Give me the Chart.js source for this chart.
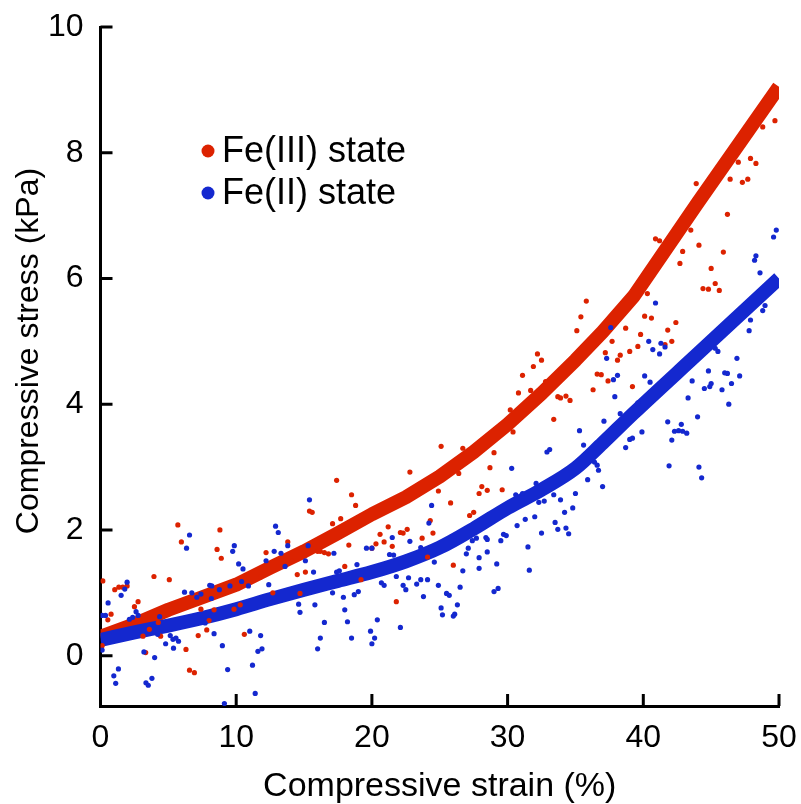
<!DOCTYPE html>
<html>
<head>
<meta charset="utf-8">
<script src="https://cdn.jsdelivr.net/npm/chart.js@4.4.1/dist/chart.umd.min.js"></script>
<style>
  html, body { margin: 0; background: #fff; }
  #wrap { width: 801px; height: 804px; }
</style>
</head>
<body>
<div id="wrap"><canvas id="stressChart"></canvas></div>
<script>
// tick labels
const xTicks = [0, 10, 20, 30, 40, 50];
const yTicks = [0, 2, 4, 6, 8, 10];

// fitted curves (strain %, stress kPa)
const fitStrain = [0, 2.5, 5, 7.5, 10, 12.5, 15, 17.5, 20, 22.5, 25, 27.5, 30, 32.5, 35, 37, 39.3, 44, 50];
const fe3Fit = [0.3, 0.5, 0.73, 0.93, 1.13, 1.4, 1.66, 1.95, 2.25, 2.52, 2.85, 3.24, 3.68, 4.17, 4.7, 5.15, 5.72, 7.2, 9.05];
const fe2Fit = [0.25, 0.37, 0.48, 0.6, 0.74, 0.9, 1.05, 1.19, 1.33, 1.5, 1.72, 2.02, 2.35, 2.64, 2.98, 3.38, 3.86, 4.8, 6.0];

// measured points, Fe(III) state
const fe3Points = [
  [5.7,2.08],[5.96,1.81],[8.8,2.0],[8.59,1.69],[8.9,1.55],[12.2,1.64],[0.17,1.19],[1.05,1.05],
  [1.35,1.09],[1.64,1.09],[1.96,1.11],[3.94,1.26],[5.07,1.21],[2.77,0.86],[2.5,0.78],[0.78,0.66],
  [0.54,0.57],[3.6,0.42],[3.13,0.31],[4.43,0.31],[4.26,0.53],[7.2,0.32],[7.83,0.41],[6.3,0.1],
  [6.56,-0.23],[6.92,-0.27],[3.33,0.05],[7.4,0.74],[8.37,0.73],[8.0,0.56],[9.84,0.74],[10.3,0.81],
  [10.6,0.34],[11.8,1.25],[0.12,0.16],
  [22.8,2.92],[17.4,2.79],[18.5,2.56],[18.8,2.39],[15.4,2.3],[15.6,2.28],[17.7,2.18],[17.1,2.1],
  [13.8,1.81],[21.2,2.05],[20.6,1.93],[20.3,1.78],[20.9,1.81],[22.1,1.96],[22.3,1.95],[22.6,2.01],
  [21.5,1.74],[20.0,1.71],[18.3,1.76],[16.0,1.66],[16.2,1.66],[16.5,1.64],[16.8,1.62],[18.0,1.42],
  [15.1,1.33],[14.5,1.29],[14.1,1.5],[23.7,1.87],[24.3,2.15],[24.5,1.95],[24.1,1.57],[19.2,1.21],
  [21.8,0.86],[14.7,0.99],[12.7,1.0],[24.9,2.62],
  [35.8,5.64],[35.4,5.39],[35.1,5.17],[32.2,4.8],[32.5,4.7],[31.9,4.6],[31.1,4.46],[32.8,4.36],
  [31.7,4.22],[30.8,4.18],[33.7,4.12],[33.9,4.1],[34.3,4.13],[34.6,4.06],[30.2,3.91],[30.4,3.56],
  [33.4,3.76],[36.3,4.23],[36.6,4.48],[36.9,4.47],[37.2,4.82],[37.4,4.37],[25.1,3.33],[26.7,3.3],
  [29.0,3.23],[26.4,2.9],[28.7,2.99],[28.1,2.69],[28.5,2.63],[27.9,2.58],[29.6,2.64],[25.8,2.43],
  [27.5,2.28],[27.2,2.23],[26.0,1.44],
  [49.7,8.51],[48.8,8.41],[47.9,7.91],[48.3,7.83],[47.0,7.85],[46.4,7.58],[47.3,7.53],[47.7,7.58],
  [43.9,7.51],[46.2,7.02],[40.9,6.63],[41.2,6.6],[43.5,6.77],[44.1,6.53],[42.9,6.43],[45.9,6.42],
  [42.7,6.24],[45.0,6.16],[44.4,5.84],[44.8,5.83],[45.3,5.92],[45.6,5.81],[40.3,5.76],[40.1,5.4],
  [40.6,5.37],[42.4,5.3],[38.7,5.21],[41.8,5.18],[39.8,5.11],[37.7,5.0],[42.1,5.0],[39.6,4.92],
  [39.0,4.84],[38.3,4.78],[38.1,4.7],[39.2,4.28],[41.6,4.95]
];

// measured points, Fe(II) state
const fe2Points = [
  [6.56,1.92],[6.34,1.71],[9.86,1.75],[9.74,1.66],[10.18,1.46],[10.5,1.38],[10.9,1.11],[10.4,1.18],
  [9.54,1.11],[8.2,1.11],[1.96,1.17],[1.79,1.06],[1.52,0.96],[0.56,0.84],[0.12,0.64],[0.37,0.64],
  [2.37,0.61],[2.13,0.58],[2.62,0.7],[2.77,0.64],[6.19,1.01],[6.73,1.0],[7.1,0.93],[7.4,0.98],
  [8.05,1.12],[8.76,1.05],[8.17,0.91],[4.36,0.62],[7.71,0.52],[8.37,0.35],[4.21,0.34],[4.8,0.19],
  [5.14,0.32],[5.34,0.26],[5.56,0.28],[5.75,0.23],[5.38,0.12],[8.98,0.16],[3.2,0.06],[3.99,-0.03],
  [11.0,0.39],[11.8,0.32],[11.9,0.11],[11.6,0.07],[11.2,-0.15],[9.37,-0.22],[1.32,-0.21],[0.98,-0.32],
  [1.12,-0.44],[3.35,-0.43],[3.52,-0.47],[3.79,-0.36],[11.4,-0.6],[9.13,-0.76],[0.12,0.09],
  [15.4,2.48],[12.9,2.06],[13.1,1.96],[13.8,1.75],[12.8,1.66],[13.3,1.63],[15.3,1.75],[13.6,1.42],
  [15.1,1.51],[15.7,1.33],[17.2,1.63],[17.4,1.33],[17.6,1.35],[18.9,1.45],[19.6,1.71],[20.0,1.71],
  [21.3,1.61],[21.6,1.6],[21.5,1.88],[22.8,1.82],[23.6,1.72],[24.2,2.11],[24.4,2.39],[24.6,1.49],
  [24.9,1.12],[24.1,1.21],[23.8,0.94],[23.3,1.14],[23.6,1.21],[22.3,1.12],[22.5,1.05],[22.7,1.24],
  [21.8,1.26],[20.7,1.16],[20.9,1.12],[18.7,0.97],[19.0,1.02],[17.1,1.0],[17.9,0.93],[12.4,1.13],
  [14.6,0.82],[14.7,0.69],[15.8,0.81],[16.5,0.53],[18.0,0.73],[18.2,0.54],[20.4,0.57],[19.9,0.39],
  [20.2,0.28],[20.0,0.19],[18.5,0.28],[16.2,0.28],[16.0,0.11],[22.1,0.45],[12.2,1.51],
  [35.3,3.58],[35.6,3.35],[37.1,3.73],[37.3,4.73],[32.9,3.24],[33.1,3.28],[30.3,2.98],[36.4,3.08],
  [36.6,3.03],[36.7,2.95],[35.9,2.8],[37.0,2.69],[32.1,2.74],[30.6,2.56],[31.1,2.58],[32.3,2.44],
  [32.7,2.46],[33.4,2.56],[33.9,2.48],[35.0,2.58],[34.8,2.35],[34.2,2.28],[33.5,2.12],[33.7,2.01],
  [34.3,2.03],[34.5,1.94],[32.0,2.21],[31.3,2.17],[30.7,2.07],[32.5,1.95],[29.7,1.93],[29.9,1.91],
  [29.5,1.83],[28.4,1.88],[28.5,1.85],[27.7,1.87],[27.4,1.83],[27.1,1.71],[26.96,1.62],[27.9,1.56],
  [28.5,1.65],[29.2,1.46],[27.9,1.39],[26.7,1.35],[31.6,1.36],[31.5,1.73],[26.5,1.09],[25.5,0.99],
  [25.7,0.96],[29.0,1.02],[29.3,1.07],[26.3,0.81],[25.1,0.76],[25.2,0.65],[26.0,0.63],[26.1,0.66],
  [49.8,6.77],[49.6,6.66],[48.3,6.36],[48.2,6.29],[48.6,6.09],[48.97,5.57],[48.8,5.49],[47.9,5.34],
  [47.8,5.17],[40.9,5.61],[37.6,5.22],[40.4,5.0],[41.3,4.97],[40.7,4.87],[41.6,4.91],[41.2,4.8],
  [45.3,4.89],[45.5,4.84],[46.9,4.73],[38.1,4.46],[37.8,4.39],[40.1,4.45],[40.5,4.35],[44.8,4.53],
  [46.0,4.5],[46.2,4.49],[47.1,4.45],[43.6,4.37],[45.0,4.33],[44.9,4.28],[44.5,4.25],[46.5,4.33],
  [45.8,4.23],[37.9,4.12],[43.3,4.10],[46.3,4.0],[39.6,4.02],[38.3,3.85],[44.0,3.8],[41.8,3.72],
  [39.9,3.56],[42.8,3.68],[42.3,3.57],[42.6,3.58],[42.9,3.57],[43.2,3.54],[42.1,3.43],[39.0,3.44],
  [39.2,3.46],[38.7,3.31],[41.9,3.02],[44.1,3.0],[44.3,2.83]
];

const RED = "#dc2200";
const BLUE = "#1428cf";
const FONT = "'Liberation Sans', Arial, Helvetica, sans-serif";

const toXY = pts => pts.map(p => ({ x: p[0], y: p[1] }));
const fitXY = ys => fitStrain.map((x, i) => ({ x: x, y: ys[i] }));

// inward ticks, y title and legend
const decorations = {
  id: "decorations",
  afterDraw(chart) {
    const { ctx, scales: { x, y } } = chart;
    ctx.save();
    ctx.strokeStyle = "#000";
    ctx.lineWidth = 3;
    ctx.beginPath();
    xTicks.forEach(v => {
      const px = x.getPixelForValue(v);
      ctx.moveTo(px, y.bottom);
      ctx.lineTo(px, y.bottom - 12);
    });
    yTicks.forEach(v => {
      const py = y.getPixelForValue(v);
      ctx.moveTo(x.left, py);
      ctx.lineTo(x.left + 12, py);
    });
    ctx.stroke();

    // y axis title
    ctx.fillStyle = "#000";
    ctx.font = "32px " + FONT;
    ctx.textAlign = "center";
    ctx.textBaseline = "middle";
    ctx.translate(29, 351);
    ctx.rotate(-Math.PI / 2);
    ctx.fillText("Compressive stress (kPa)", 0, 0);
    ctx.restore();

    // legend
    ctx.save();
    ctx.font = "36px " + FONT;
    ctx.textBaseline = "middle";
    [["Fe(III) state", RED, 151], ["Fe(II) state", BLUE, 193]].forEach(([label, col, ly]) => {
      ctx.fillStyle = col;
      ctx.beginPath();
      ctx.arc(208, ly, 6.5, 0, Math.PI * 2);
      ctx.fill();
      ctx.fillStyle = "#000";
      ctx.fillText(label, 222, ly + 1);
    });
    ctx.restore();
  }
};

new Chart(document.getElementById("stressChart"), {
  type: "scatter",
  data: {
    datasets: [
      { label: "Fe(II) state", data: toXY(fe2Points), backgroundColor: BLUE, borderWidth: 0, pointRadius: 2.6, order: 0 },
      { label: "Fe(III) state", data: toXY(fe3Points), backgroundColor: RED, borderWidth: 0, pointRadius: 2.6, order: 1 },
      { label: "Fe(II) fit", data: fitXY(fe2Fit), showLine: true, borderColor: BLUE, borderWidth: 14,
        cubicInterpolationMode: "monotone", borderCapStyle: "butt", borderJoinStyle: "round", pointRadius: 0, order: 2 },
      { label: "Fe(III) fit", data: fitXY(fe3Fit), showLine: true, borderColor: RED, borderWidth: 14,
        borderCapStyle: "butt", borderJoinStyle: "round", pointRadius: 0, order: 3 }
    ]
  },
  options: {
    responsive: true,
    maintainAspectRatio: false,
    animation: false,
    layout: { padding: { top: 27, right: 22, left: 0, bottom: 0 } },
    plugins: { legend: { display: false }, tooltip: { enabled: false } },
    scales: {
      x: {
        min: 0, max: 50,
        afterBuildTicks: s => { s.ticks = xTicks.map(v => ({ value: v })); },
        afterFit: s => { s.height = 98; s.paddingLeft = 0; s.paddingRight = 0; },
        grid: { display: false, drawTicks: false },
        border: { display: true, color: "#000", width: 3 },
        ticks: { color: "#000", padding: 13, font: { family: FONT, size: 32 } },
        title: { display: true, text: "Compressive strain (%)", color: "#000",
          padding: 0, font: { family: FONT, size: 34, lineHeight: 1 } }
      },
      y: {
        min: -0.8, max: 10,
        afterBuildTicks: s => { s.ticks = yTicks.map(v => ({ value: v })); },
        afterFit: s => { s.width = 100.5; s.paddingTop = 0; s.paddingBottom = 0; },
        grid: { display: false, drawTicks: false },
        border: { display: true, color: "#000", width: 3 },
        ticks: { color: "#000", padding: 17, font: { family: FONT, size: 32 } }
      }
    }
  },
  plugins: [decorations]
});
</script>
</body>
</html>
